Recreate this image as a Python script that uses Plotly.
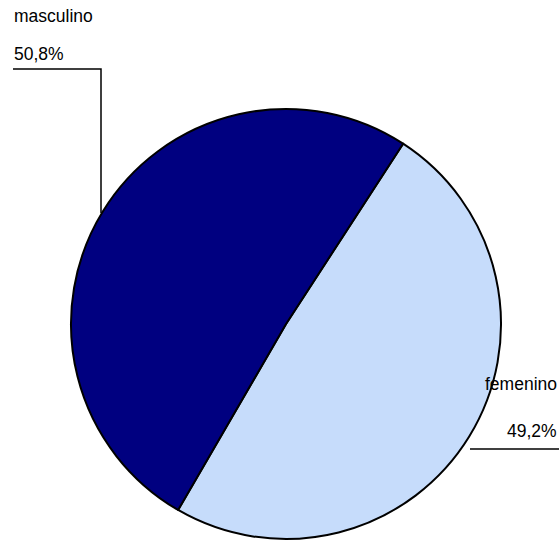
import plotly.graph_objects as go

# Distribution by sex
labels = ["femenino", "masculino"]
values = [49.2, 50.8]
colors = ["#C6DCFB", "#000080"]

W, H = 559, 542


def px(x):
    return x / W


def py(y):
    return 1 - y / H


def pct(v):
    return f"{v:.1f}".replace(".", ",") + "%"


fig = go.Figure(
    go.Pie(
        labels=labels,
        values=values,
        sort=False,
        direction="clockwise",
        rotation=33,
        marker=dict(colors=colors, line=dict(color="#000000", width=2)),
        textinfo="none",
        hoverinfo="label+percent",
        showlegend=False,
        domain=dict(x=[px(71), px(501)], y=[py(539), py(109)]),
    )
)

font = dict(family="Liberation Sans, Arial, sans-serif", size=17.5, color="#000000")

annotations = [
    # masculino, upper left
    dict(x=px(12), y=py(16), text=labels[1], xanchor="left", yanchor="middle"),
    dict(x=px(12), y=py(54), text=pct(values[1]), xanchor="left", yanchor="middle"),
    # femenino, right side
    dict(x=px(559), y=py(384), text=labels[0], xanchor="right", yanchor="middle"),
    dict(x=px(559), y=py(431), text=pct(values[0]), xanchor="right", yanchor="middle"),
]
for a in annotations:
    a.update(xref="paper", yref="paper", showarrow=False, font=font)

line = dict(color="#000000", width=1.5)
shapes = [
    dict(type="path", xref="paper", yref="paper",
         path=f"M {px(13)} {py(69)} L {px(101)} {py(69)} L {px(101)} {py(213)}",
         line=line),
    dict(type="line", xref="paper", yref="paper",
         x0=px(470), y0=py(449), x1=px(559), y1=py(449), line=line),
]

fig.update_layout(
    width=W,
    height=H,
    margin=dict(l=0, r=0, t=0, b=0),
    paper_bgcolor="#FFFFFF",
    plot_bgcolor="#FFFFFF",
    annotations=annotations,
    shapes=shapes,
)

fig.write_html("out.html")
